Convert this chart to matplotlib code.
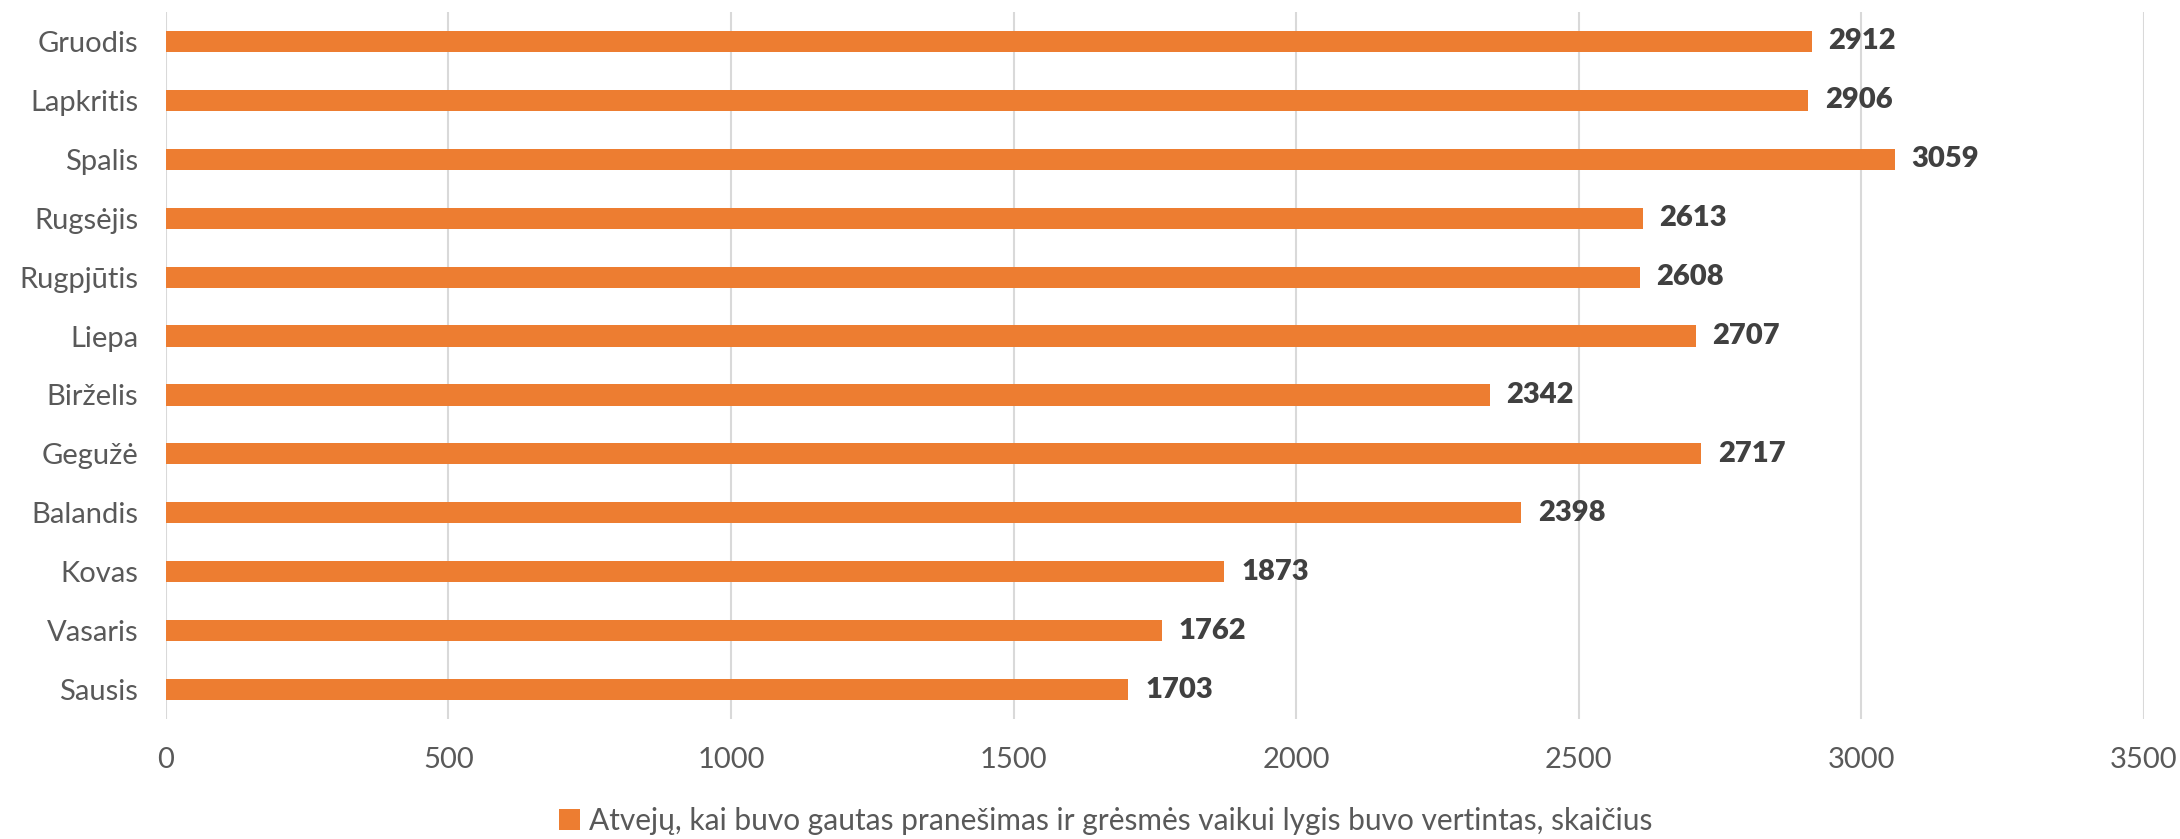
import matplotlib.pyplot as plt
from matplotlib.patches import Patch

months = ['Sausis', 'Vasaris', 'Kovas', 'Balandis', 'Gegužė', 'Birželis',
          'Liepa', 'Rugpjūtis', 'Rugsėjis', 'Spalis', 'Lapkritis', 'Gruodis']
values = [1703, 1762, 1873, 2398, 2717, 2342, 2707, 2608, 2613, 3059, 2906, 2912]
series_name = 'Atvejų, kai buvo gautas pranešimas ir grėsmės vaikui lygis buvo vertintas, skaičius'

orange = '#ED7D31'
plt.rcParams['font.family'] = ['Lato', 'DejaVu Sans']

fig = plt.figure(figsize=(21.8, 8.39), dpi=100)
ax = fig.add_axes([0.0761, 0.143, 0.9074, 0.8427])

y = list(range(len(months)))
ax.barh(y, values, height=0.36, color=orange, zorder=3)

for yi, v in zip(y, values):
    ax.annotate(str(v), xy=(v, yi), xytext=(12, 0), textcoords='offset points',
                va='center', ha='left', fontsize=21, fontweight='heavy', color='#404040')

ax.set_xlim(0, 3500)
ax.set_ylim(-0.5, 11.5)
ax.set_xticks(range(0, 3501, 500))
ax.set_yticks(y)
ax.set_yticklabels(months)
ax.tick_params(axis='both', length=0, labelsize=21, colors='#595959')
ax.tick_params(axis='x', pad=20)
ax.tick_params(axis='y', pad=20)
ax.grid(axis='x', color='#D9D9D9', linewidth=1.5, zorder=0)
for s in ax.spines.values():
    s.set_visible(False)

handle = Patch(facecolor=orange, edgecolor='none')
fig.legend([handle], [series_name], loc='center', bbox_to_anchor=(0.507, 0.022),
           frameon=False, fontsize=21.5, labelcolor='#595959',
           handlelength=0.7, handleheight=0.7, handletextpad=0.3)

fig.savefig('out.png', dpi=100, facecolor='white')
